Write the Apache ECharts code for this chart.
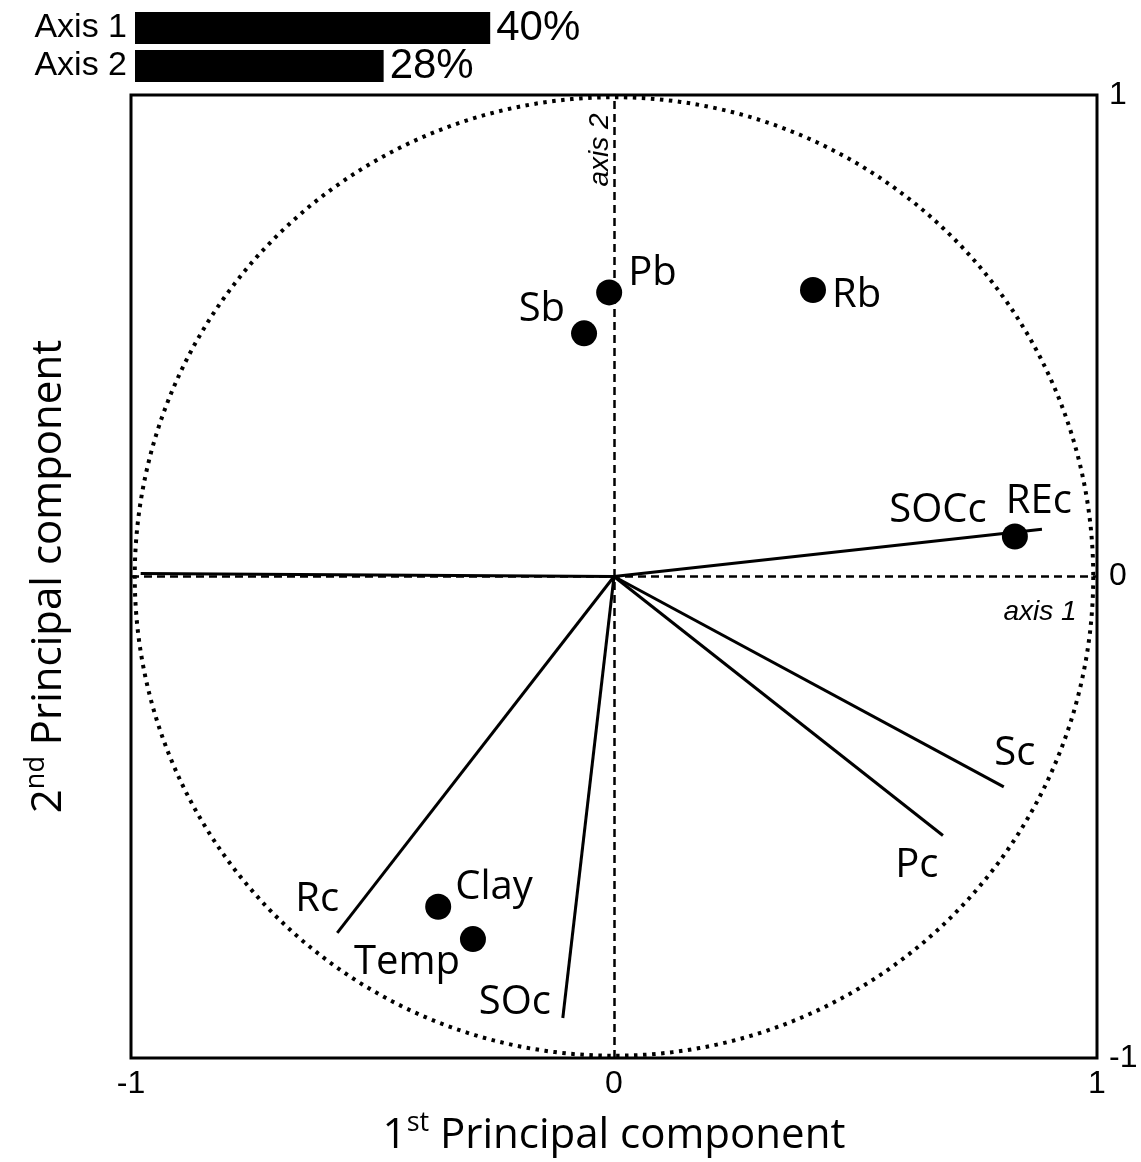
<!DOCTYPE html>
<html><head><meta charset="utf-8">
<script src="https://cdn.jsdelivr.net/npm/echarts@6/dist/echarts.min.js"></script>
<style>html,body{margin:0;padding:0;background:#fff}#c{width:1141px;height:1162px}</style>
</head><body><div id="c"></div>
<script>
// ---- data ----
const axisTicks = [-1, 0, 1];
const varianceLabels = ['Axis 1', 'Axis 2'];
const varianceValues = [40, 28];
const pointNames = ['Pb', 'Sb', 'Rb', 'REc', 'Clay', 'Temp'];
const pointX = [-0.010, -0.062, 0.412, 0.830, -0.364, -0.292];
const pointY = [0.590, 0.505, 0.595, 0.083, -0.686, -0.753];
const vectorNames = ['SOCc', '', 'Sc', 'Pc', 'Rc', 'SOc'];
const vectorX = [0.886, -0.980, 0.807, 0.681, -0.573, -0.106];
const vectorY = [0.098, 0.006, -0.437, -0.538, -0.740, -0.917];

// ---- styles ----
const LBL_FONT = 'Open Sans';
const TICK_FONT = 'Liberation Sans';
const pointLabelStyle = {
  Pb: { position: 'right', offset: [0, -19], distance: 6 },
  Sb: { position: 'left', offset: [0, -24], distance: 6 },
  Rb: { position: 'right', offset: [0, 6], distance: 6 },
  REc: { position: 'top', offset: [24, 0], distance: 2 },
  Clay: { position: 'right', offset: [0, -19], distance: 4 },
  Temp: { position: 'left', offset: [0, 24], distance: 0 }
};
const vectorLabelOffset = {
  SOCc: [-104, -19], Sc: [11, -33], Pc: [-26, 30], Rc: [-20, -33], SOc: [-48, -15]
};

const chart = echarts.init(document.getElementById('c'), null, { renderer: 'canvas' });

const pointData = pointNames.map((n, i) => {
  const s = pointLabelStyle[n];
  return {
    name: n, value: [pointX[i], pointY[i]],
    label: { show: true, formatter: n, position: s.position, offset: s.offset, distance: s.distance,
      fontSize: 40, fontFamily: LBL_FONT, color: '#000' }
  };
});
const vectorData = vectorNames.map((n, i) => [vectorX[i], vectorY[i]]);

const titleRich = {
  a: { fontSize: 42, fontFamily: LBL_FONT, color: '#000', lineHeight: 52 },
  s: { fontSize: 27, fontFamily: LBL_FONT, color: '#000', verticalAlign: 'top', lineHeight: 30 }
};

chart.setOption({
  animation: false,
  backgroundColor: '#fff',
  grid: [
    { left: 131, right: 44, top: 95, bottom: 104, show: true, borderColor: '#000', borderWidth: 3, backgroundColor: 'transparent' },
    { left: 135, top: 9, width: 888, height: 76 }
  ],
  xAxis: [
    {
      gridIndex: 0, type: 'value', min: axisTicks[0], max: axisTicks[2], interval: 1, position: 'bottom',
      axisLine: { show: false }, axisTick: { show: false }, splitLine: { show: false },
      axisLabel: { fontSize: 32, fontFamily: TICK_FONT, color: '#000', margin: 10 },
      name: '{a|1}{s|st}{a| Principal component}', nameLocation: 'middle', nameGap: 52,
      nameTextStyle: { rich: titleRich }
    },
    { gridIndex: 1, type: 'value', min: 0, max: 100, show: false }
  ],
  yAxis: [
    {
      gridIndex: 0, type: 'value', min: axisTicks[0], max: axisTicks[2], interval: 1, position: 'right',
      axisLine: { show: false }, axisTick: { show: false }, splitLine: { show: false },
      axisLabel: { fontSize: 32, fontFamily: TICK_FONT, color: '#000', margin: 12 }
    },
    {
      gridIndex: 0, type: 'value', min: -1, max: 1, position: 'left',
      axisLine: { show: false }, axisTick: { show: false }, splitLine: { show: false }, axisLabel: { show: false },
      name: '{a|2}{s|nd}{a| Principal component}', nameLocation: 'middle', nameGap: 56, nameRotate: 90,
      nameTextStyle: { rich: titleRich }
    },
    {
      gridIndex: 1, type: 'category', data: varianceLabels, inverse: true,
      axisLine: { show: false }, axisTick: { show: false },
      axisLabel: { interval: 0, fontSize: 34, fontFamily: TICK_FONT, color: '#000', margin: 8 }
    }
  ],
  series: [
    {
      type: 'custom', xAxisIndex: 0, yAxisIndex: 0, silent: true, z: 1,
      data: [[0, 0]],
      renderItem: function (params, api) {
        const c = api.coord([api.value(0), api.value(1)]);
        const r = api.size([1, 1]);
        return {
          type: 'circle',
          shape: { cx: c[0], cy: c[1], r: (r[0] + r[1]) / 2 - 3 },
          style: { fill: 'none', stroke: '#000', lineWidth: 4, lineDash: [3.5, 5.5] }
        };
      }
    },
    {
      type: 'custom', xAxisIndex: 0, yAxisIndex: 0, silent: true, z: 3,
      data: vectorData,
      renderItem: function (params, api) {
        const o = api.coord([0, 0]);
        const e = api.coord([api.value(0), api.value(1)]);
        const name = vectorNames[params.dataIndex];
        const children = [{
          type: 'line', shape: { x1: o[0], y1: o[1], x2: e[0], y2: e[1] },
          style: { stroke: '#000', lineWidth: 3 }
        }];
        if (name) {
          const off = vectorLabelOffset[name];
          children.push({
            type: 'text', x: e[0] + off[0], y: e[1] + off[1],
            style: { text: name, fontSize: 40, fontFamily: LBL_FONT, fill: '#000',
              align: 'center', verticalAlign: 'middle', textAlign: 'center', textVerticalAlign: 'middle' }
          });
        }
        return { type: 'group', children: children };
      }
    },
    {
      type: 'scatter', xAxisIndex: 0, yAxisIndex: 0, z: 4,
      symbol: 'circle', symbolSize: 26,
      itemStyle: { color: '#000', opacity: 1 },
      data: pointData,
      markLine: {
        silent: true, symbol: 'none', z: 2,
        lineStyle: { color: '#000', width: 2.5, type: [8, 5], opacity: 1 },
        label: { show: false },
        data: [{ xAxis: 0 }, { yAxis: 0 }]
      }
    },
    {
      type: 'bar', xAxisIndex: 1, yAxisIndex: 2, data: varianceValues, barWidth: 32,
      itemStyle: { color: '#000' },
      label: { show: true, position: 'right', distance: 6, formatter: '{c}%',
        fontSize: 42, fontFamily: TICK_FONT, color: '#000' }
    }
  ],
  graphic: [
    { type: 'text', x: 600, y: 150, rotation: Math.PI / 2,
      style: { text: 'axis 2', font: 'italic 28px "Liberation Sans"', fill: '#000',
        align: 'center', verticalAlign: 'middle', textAlign: 'center', textVerticalAlign: 'middle' } },
    { type: 'text', x: 1040, y: 612,
      style: { text: 'axis 1', font: 'italic 28px "Liberation Sans"', fill: '#000',
        align: 'center', verticalAlign: 'middle', textAlign: 'center', textVerticalAlign: 'middle' } }
  ]
});
</script>
</body></html>
